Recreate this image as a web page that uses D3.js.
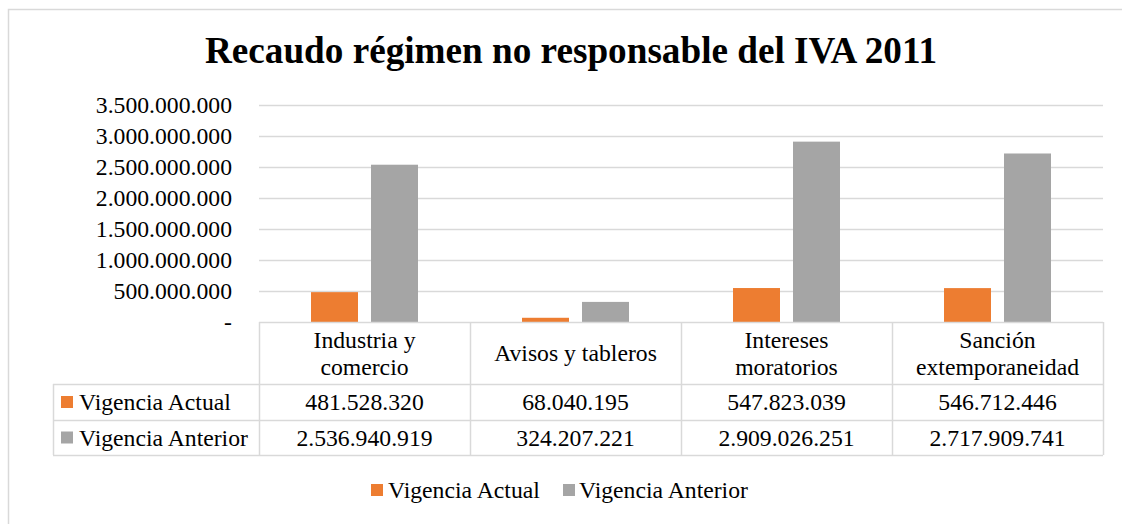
<!DOCTYPE html>
<html>
<head>
<meta charset="utf-8">
<script src="https://cdn.jsdelivr.net/npm/d3@7"></script>
<style>
  html, body { margin: 0; padding: 0; background: #fff; }
  svg { display: block; }
  text { font-family: "Liberation Serif", "Times New Roman", serif; fill: #000; }
</style>
</head>
<body>
<svg id="chart" width="1122" height="524"></svg>
<script>
const categories = [["Industria y", "comercio"], ["Avisos y tableros"], ["Intereses", "moratorios"], ["Sanción", "extemporaneidad"]];
const seriesNames = ["Vigencia Actual", "Vigencia Anterior"];
const vigenciaActual = [481528320, 68040195, 547823039, 546712446];
const vigenciaAnterior = [2536940919, 324207221, 2909026251, 2717909741];
const tickValues = [0, 500000000, 1000000000, 1500000000, 2000000000, 2500000000, 3000000000, 3500000000];
const colors = ["#ED7D31", "#A5A5A5"];

const values = [vigenciaActual, vigenciaAnterior];
const fmt = v => v === 0 ? "-" : d3.format(",")(v).replace(/,/g, ".");

const svg = d3.select("#chart");
const gridColor = "#d9d9d9";
const fontSize = 23.7;

// Outer chart border
svg.append("rect").attr("x", 8.5).attr("y", 9.5).attr("width", 1130).attr("height", 530)
  .attr("fill", "none").attr("stroke", gridColor).attr("stroke-width", 1.5);

// Title
svg.append("text").attr("x", 571).attr("y", 63).attr("text-anchor", "middle")
  .style("font-size", "37.2px").style("font-weight", "bold")
  .text("Recaudo régimen no responsable del IVA 2011");

const plotLeft = 259, plotRight = 1103, plotTop = 105, plotBottom = 322;
const y = d3.scaleLinear().domain([0, 3500000000]).range([plotBottom, plotTop]);
const catIdx = categories.map((c, i) => i);
const x0 = d3.scaleBand().domain(catIdx).range([plotLeft, plotRight]);
const groupW = x0.bandwidth() * 0.507;
const x1 = d3.scaleBand().domain([0, 1]).range([0, groupW]).paddingInner(0.2167);

// Gridlines
svg.append("g").selectAll("line").data(tickValues.filter(v => v > 0)).join("line")
  .attr("x1", plotLeft).attr("x2", plotRight)
  .attr("y1", d => Math.round(y(d)) + 0.5).attr("y2", d => Math.round(y(d)) + 0.5)
  .attr("stroke", gridColor).attr("stroke-width", 1.5);

// Y tick labels
svg.append("g").selectAll("text").data(tickValues).join("text")
  .attr("x", 232).attr("y", d => y(d) + 8).attr("text-anchor", "end")
  .style("font-size", fontSize + "px").text(fmt);

// Bars
const groups = svg.append("g").selectAll("g").data(catIdx).join("g")
  .attr("transform", i => `translate(${x0(i) + (x0.bandwidth() - groupW) / 2},0)`);
groups.selectAll("rect").data(i => values.map((s, k) => ({ k, v: s[i] }))).join("rect")
  .attr("x", d => x1(d.k)).attr("width", x1.bandwidth())
  .attr("y", d => y(d.v)).attr("height", d => y(0) - y(d.v))
  .attr("fill", d => colors[d.k]);

// Data table
const tableLeft = 53;
const rowTops = [322, 384, 420, 455];
const tg = svg.append("g");
tg.append("line").attr("x1", plotLeft).attr("x2", plotRight).attr("y1", rowTops[0] + 0.5).attr("y2", rowTops[0] + 0.5)
  .attr("stroke", gridColor).attr("stroke-width", 1.5);
rowTops.slice(1).forEach(yy => {
  tg.append("line").attr("x1", tableLeft).attr("x2", plotRight).attr("y1", yy + 0.5).attr("y2", yy + 0.5)
    .attr("stroke", gridColor).attr("stroke-width", 1.5);
});
tg.append("line").attr("x1", tableLeft + 0.5).attr("x2", tableLeft + 0.5).attr("y1", rowTops[1]).attr("y2", rowTops[3])
  .attr("stroke", gridColor).attr("stroke-width", 1.5);
catIdx.concat([4]).forEach(i => {
  const xx = i < 4 ? x0(i) : plotRight;
  tg.append("line").attr("x1", xx + 0.5).attr("x2", xx + 0.5).attr("y1", rowTops[0]).attr("y2", rowTops[3])
    .attr("stroke", gridColor).attr("stroke-width", 1.5);
});
catIdx.forEach(i => {
  const lines = categories[i];
  const cx = x0(i) + x0.bandwidth() / 2;
  const mid = (rowTops[0] + rowTops[1]) / 2;
  const lh = 27;
  lines.forEach((t, j) => {
    tg.append("text").attr("x", cx).attr("y", mid + 8 + (j - (lines.length - 1) / 2) * lh)
      .attr("text-anchor", "middle").style("font-size", fontSize + "px").text(t);
  });
});
seriesNames.forEach((name, k) => {
  const top = rowTops[k + 1], bot = rowTops[k + 2];
  const mid = (top + bot) / 2;
  tg.append("rect").attr("x", 61).attr("y", mid - 6).attr("width", 12).attr("height", 12).attr("fill", colors[k]);
  tg.append("text").attr("x", 79).attr("y", mid + 8).style("font-size", fontSize + "px").text(name);
  catIdx.forEach(i => {
    tg.append("text").attr("x", x0(i) + x0.bandwidth() / 2).attr("y", mid + 8)
      .attr("text-anchor", "middle").style("font-size", fontSize + "px").text(fmt(values[k][i]));
  });
});

// Legend
const legendItems = [{ x: 371, tx: 388 }, { x: 563, tx: 579 }];
const lg = svg.append("g");
seriesNames.forEach((name, k) => {
  lg.append("rect").attr("x", legendItems[k].x).attr("y", 484).attr("width", 12).attr("height", 12).attr("fill", colors[k]);
  lg.append("text").attr("x", legendItems[k].tx).attr("y", 498).style("font-size", fontSize + "px").text(name);
});
</script>
</body>
</html>
